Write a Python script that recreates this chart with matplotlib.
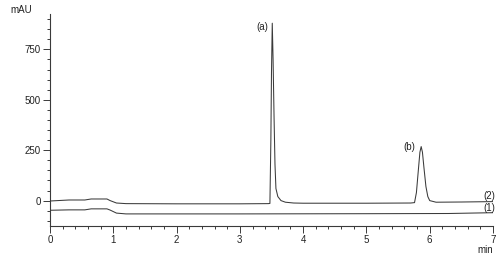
import matplotlib
matplotlib.use("Agg")
import matplotlib.pyplot as plt
from matplotlib.ticker import MultipleLocator

plt.rcParams['font.family'] = ['Liberation Sans', 'DejaVu Sans']

# Trace (2): sample chromatogram
t2 = [0.00, 0.30, 0.55, 0.65, 0.90, 0.95, 1.05, 1.20, 2.00, 3.00, 3.45, 3.475,
      3.49, 3.50, 3.512, 3.525, 3.54, 3.555, 3.57, 3.60, 3.65, 3.72, 3.85, 4.00,
      5.00, 5.70, 5.76, 5.79, 5.82, 5.845, 5.865, 5.885, 5.91, 5.94, 5.97, 6.00,
      6.10, 6.50, 7.00]
y2 = [-2, 3, 3, 8, 8, 0, -12, -15, -16, -16, -15, -14,
      300, 640, 880, 700, 420, 180, 60, 20, 0, -8, -12, -13,
      -13, -12, -10, 40, 150, 240, 268, 240, 160, 70, 20, 0,
      -8, -7, -5]

# Trace (1): blank chromatogram
t1 = [0.00, 0.30, 0.55, 0.65, 0.90, 0.95, 1.05, 1.20, 3.00, 5.00, 6.30, 7.00]
y1 = [-48, -46, -46, -41, -41, -47, -62, -66, -66, -65, -64, -60]

peak_labels = ["(a)", "(b)"]
trace_labels = ["(2)", "(1)"]
x_ticks = [0, 1, 2, 3, 4, 5, 6, 7]
y_ticks = [0, 250, 500, 750]

fig = plt.figure(figsize=(5.0, 2.63), dpi=100)
ax = fig.add_axes([0.1, 0.1407, 0.886, 0.8063])

col = '#3a3a3a'
ax.plot(t2, y2, color=col, lw=0.75)
ax.plot(t1, y1, color=col, lw=0.75)

ax.set_xlim(0, 7)
ax.set_ylim(-126, 926)
ax.set_xticks(x_ticks)
ax.set_yticks(y_ticks)
ax.xaxis.set_minor_locator(MultipleLocator(0.2))
ax.yaxis.set_minor_locator(MultipleLocator(50))

for s in ['top', 'right']:
    ax.spines[s].set_visible(False)
for s in ['left', 'bottom']:
    ax.spines[s].set_color(col)
    ax.spines[s].set_linewidth(0.8)

ax.tick_params(axis='both', which='major', length=5, width=0.7, color=col,
               labelsize=7, labelcolor='#222222', pad=1.5)
ax.tick_params(axis='both', which='minor', length=2.5, width=0.7, color=col)

fs = 7
ax.text(3.35, 860, peak_labels[0], fontsize=fs, ha='center', va='center', color='#222222')
ax.text(5.67, 266, peak_labels[1], fontsize=fs, ha='center', va='center', color='#222222')
ax.text(6.94, 23, trace_labels[0], fontsize=fs, ha='center', va='center', color='#222222')
ax.text(6.94, -39, trace_labels[1], fontsize=fs, ha='center', va='center', color='#222222')

fig.text(10/500, 1 - 10/263, "mAU", fontsize=fs, ha='left', va='center', color='#222222')
fig.text(485/500, 1 - 250/263, "min", fontsize=fs, ha='center', va='center', color='#222222')

fig.savefig("out.png", dpi=100, facecolor='white')
